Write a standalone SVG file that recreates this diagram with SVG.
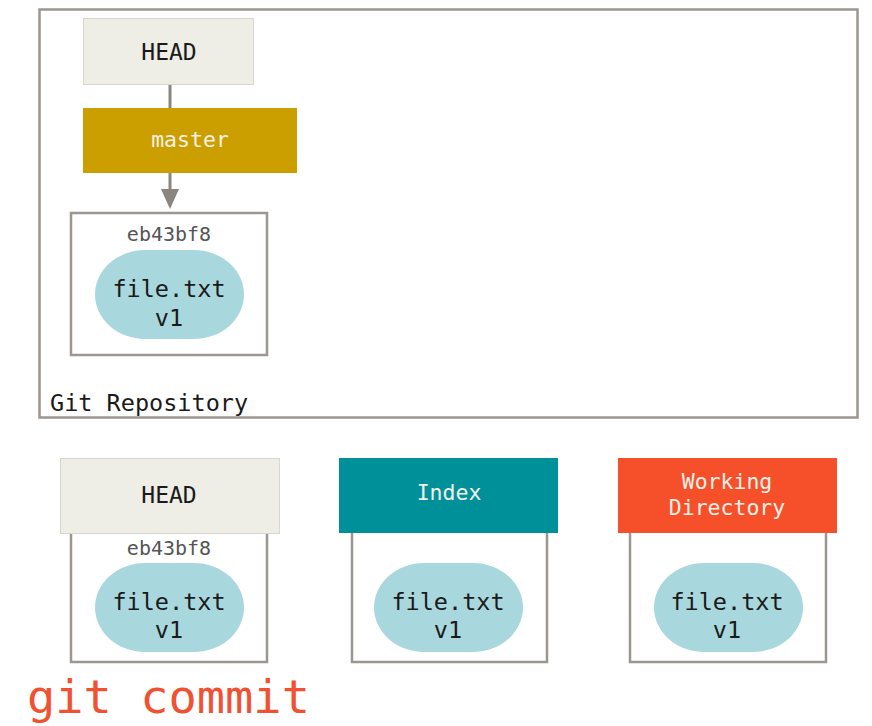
<svg xmlns="http://www.w3.org/2000/svg" width="872" height="726" viewBox="0 0 872 726">
<style>
text{font-family:"DejaVu Sans Mono","Liberation Mono",monospace;text-anchor:middle}
.frame{fill:#fff;stroke:#9b968f;stroke-width:2.5}
.head{fill:#eeede6;stroke:#d8d6cf;stroke-width:1}
.pill{fill:#a8d8dd}
.ft{font-size:23.5px;fill:#1a1a1a}
.hash{font-size:20px;fill:#555}
.hd{font-size:23px;fill:#1a1a1a}
.wt{font-size:21.5px;fill:#f4f0e8}
</style>
<g id="repo">
<rect x="39.5" y="9.5" width="818" height="408" fill="#fff" stroke="#9b968f" stroke-width="2.5"/>
<text x="50" y="411" style="text-anchor:start;font-size:23.5px;fill:#1a1a1a">Git Repository</text>
</g>
<g id="connectors">
<line x1="170" y1="84" x2="170" y2="108" stroke="#8a857e" stroke-width="3"/>
<line x1="170" y1="173" x2="170" y2="191" stroke="#8a857e" stroke-width="3"/>
<path d="M161,189 L179,189 L170,209 z" fill="#8a857e"/>
</g>
<g id="head-top">
<rect class="head" x="83.5" y="18.5" width="170" height="66"/>
<text class="hd" x="169" y="60">HEAD</text>
</g>
<g id="master">
<rect x="83" y="108" width="214" height="65" fill="#cc9f00"/>
<text class="wt" x="190" y="147">master</text>
</g>
<g id="commit-top">
<rect class="frame" x="71" y="213" width="196" height="142"/>
<text class="hash" x="169" y="241">eb43bf8</text>
<rect class="pill" x="95" y="250" width="149" height="89" rx="50" ry="44.5"/>
<text class="ft" x="169" y="297">file.txt</text>
<text class="ft" x="169" y="326">v1</text>
</g>
<g id="head-tree">
<rect class="frame" x="71" y="530" width="196" height="132"/>
<rect class="head" x="60.5" y="458.5" width="219" height="75"/>
<text class="hd" x="169" y="503">HEAD</text>
<text class="hash" x="169" y="555">eb43bf8</text>
<rect class="pill" x="95" y="563" width="149" height="89" rx="50" ry="44.5"/>
<text class="ft" x="169" y="610">file.txt</text>
<text class="ft" x="169" y="638">v1</text>
</g>
<g id="index">
<rect class="frame" x="352" y="530" width="195" height="132"/>
<rect x="339" y="458" width="219" height="75" fill="#00909a"/>
<text class="wt" x="449" y="500">Index</text>
<rect class="pill" x="374" y="563" width="149" height="89" rx="50" ry="44.5"/>
<text class="ft" x="448" y="610">file.txt</text>
<text class="ft" x="448" y="638">v1</text>
</g>
<g id="workdir">
<rect class="frame" x="630" y="530" width="196" height="132"/>
<rect x="618" y="458" width="219" height="75" fill="#f5502a"/>
<text class="wt" x="727" y="489">Working</text>
<text class="wt" x="727" y="515">Directory</text>
<rect class="pill" x="654" y="563" width="149" height="89" rx="50" ry="44.5"/>
<text class="ft" x="727" y="610">file.txt</text>
<text class="ft" x="727" y="638">v1</text>
</g>
<text x="27" y="713" style="text-anchor:start;font-size:47px;fill:#f05133">git commit</text>
</svg>
